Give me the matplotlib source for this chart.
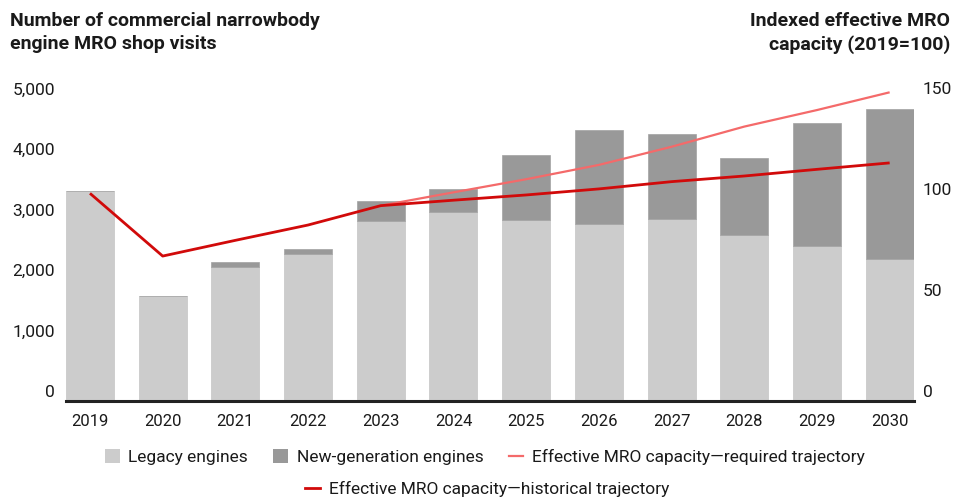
import matplotlib
matplotlib.use("Agg")
import matplotlib.pyplot as plt
import matplotlib.transforms as mtransforms
from matplotlib.patches import Patch
from matplotlib.lines import Line2D
import numpy as np

plt.rcParams['font.family'] = ['Roboto', 'DejaVu Sans']

# --- data -------------------------------------------------------------
years = ["2019", "2020", "2021", "2022", "2023", "2024",
         "2025", "2026", "2027", "2028", "2029", "2030"]
legacy_visits = [3480, 1745, 2220, 2440, 2985, 3125,
                 2995, 2935, 3010, 2745, 2575, 2350]
newgen_visits = [0, 0, 90, 80, 330, 390,
                 1075, 1550, 1405, 1275, 2035, 2480]
historical_capacity = [103.2, 72.1, 79.9, 87.5, 97.1, 99.8,
                       102.4, 105.4, 109.0, 111.8, 115.1, 118.3]
required_years = ["2023", "2024", "2025", "2026", "2027", "2028", "2029", "2030"]
required_capacity = [97.1, 103.7, 110.2, 117.3, 126.3, 136.3, 144.5, 153.3]

left_ticks = [0, 1000, 2000, 3000, 4000, 5000]
left_ticklabels = ["0", "1,000", "2,000", "3,000", "4,000", "5,000"]
right_ticks = [0, 50, 100, 150]
right_ticklabels = ["0", "50", "100", "150"]

# --- style ------------------------------------------------------------
LEGACY = "#cccccc"
NEWGEN = "#999999"
REQUIRED = "#f46a6a"
HISTORICAL = "#d10a0a"
TEXT = "#1a1a1a"

W, H, DPI = 955, 497, 100
fig = plt.figure(figsize=(W / DPI, H / DPI), dpi=DPI)
ax = fig.add_axes([0.0691, 0.1922, 0.8876, 0.6452])
ax2 = ax.twinx()

x = np.arange(len(years))
bw = 0.66
ax.bar(x, legacy_visits, width=bw, color=LEGACY, edgecolor="#c4c4c4",
       linewidth=0.5, zorder=2)
ax.bar(x, newgen_visits, width=bw, bottom=legacy_visits, color=NEWGEN,
       edgecolor="#a2a2a2", linewidth=0.5, zorder=2)

xr = [years.index(y) for y in required_years]
ax2.plot(xr, required_capacity, color=REQUIRED, lw=1.6, zorder=3,
         solid_capstyle="butt", clip_on=False)
ax2.plot(x, historical_capacity, color=HISTORICAL, lw=2.0, zorder=4,
         solid_capstyle="butt", clip_on=False)

ax.set_xlim(-bw / 2, len(years) - 1 + bw / 2)
ax.set_ylim(0, 5300)
ax2.set_ylim(0, 159)

# baseline only, no frame
for a in (ax, ax2):
    for s in ("top", "left", "right", "bottom"):
        a.spines[s].set_visible(False)
ax.axhline(0, color="#222222", lw=2.2, zorder=5, clip_on=False)

ax.set_xticks(x)
ax.set_xticklabels(years, fontsize=12, color=TEXT)
ax.tick_params(axis="x", length=0, pad=9)

# value labels sit just above their reference level
offset = mtransforms.ScaledTranslation(0, 10.5 / DPI, fig.dpi_scale_trans)

ax.set_yticks(left_ticks)
ax.set_yticklabels(left_ticklabels, fontsize=12.5, color=TEXT)
ax.tick_params(axis="y", length=0, pad=8)
for lab in ax.get_yticklabels():
    lab.set_transform(lab.get_transform() + offset)

ax2.set_yticks(right_ticks)
ax2.set_yticklabels(right_ticklabels, fontsize=12.5, color=TEXT)
ax2.tick_params(axis="y", length=0, pad=6.5)
for lab in ax2.get_yticklabels():
    lab.set_transform(lab.get_transform() + offset)

# axis titles
fig.text(10 / W, 1 - 12 / H, "Number of commercial narrowbody\nengine MRO shop visits",
         ha="left", va="top", fontsize=14, fontweight="bold", color=TEXT,
         linespacing=1.38)
fig.text(950 / W, 1 - 12 / H, "Indexed effective MRO\ncapacity (2019=100)",
         ha="right", va="top", fontsize=14, fontweight="bold", color=TEXT,
         linespacing=1.38, multialignment="right")

# legend
h_legacy = Patch(facecolor=LEGACY, edgecolor="none")
h_newgen = Patch(facecolor=NEWGEN, edgecolor="none")
h_req = Line2D([0], [0], color=REQUIRED, lw=1.6)
h_hist = Line2D([0], [0], color=HISTORICAL, lw=2.0)
common = dict(frameon=False, fontsize=12.5, handlelength=0.85, handleheight=0.9,
              handletextpad=0.5, borderaxespad=0, borderpad=0)
leg1 = fig.legend([h_legacy, h_newgen, h_req],
                  ["Legacy engines", "New-generation engines",
                   "Effective MRO capacity\u2014required trajectory"],
                  loc="center", bbox_to_anchor=(485 / W, 1 - 457 / H),
                  ncol=3, columnspacing=1.45, **common)
leg2 = fig.legend([h_hist], ["Effective MRO capacity\u2014historical trajectory"],
                  loc="center", bbox_to_anchor=(487 / W, 1 - 489 / H), **common)
for lg in (leg1, leg2):
    for t in lg.get_texts():
        t.set_color(TEXT)

fig.savefig("out.png", dpi=DPI, facecolor="white")
